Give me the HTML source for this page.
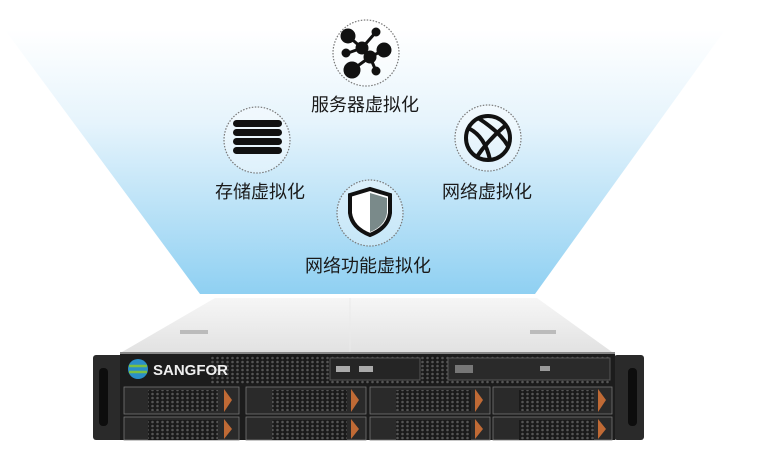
<!DOCTYPE html>
<html><head><meta charset="utf-8"><style>
html,body{margin:0;padding:0;background:#fff;width:759px;height:464px;overflow:hidden}
text{font-family:"Liberation Sans","Noto Sans CJK SC",sans-serif;fill:#1a1a1a}
</style></head><body>
<svg width="759" height="464" viewBox="0 0 759 464" xmlns="http://www.w3.org/2000/svg">
<defs>
<linearGradient id="bl" x1="0" y1="0" x2="0" y2="1">
<stop offset="0" stop-color="#ffffff"/>
<stop offset="0.35" stop-color="#e6f4fc"/>
<stop offset="1" stop-color="#8fd0f2"/>
</linearGradient>
<linearGradient id="top" x1="0" y1="0" x2="0" y2="1">
<stop offset="0" stop-color="#f6f6f6"/>
<stop offset="1" stop-color="#e2e2e2"/>
</linearGradient>
<pattern id="hex" width="5" height="4" patternUnits="userSpaceOnUse">
<rect width="5" height="4" fill="#1a1a1a"/><circle cx="2.5" cy="2" r="1.3" fill="#555"/>
</pattern>
</defs>
<polygon points="5,30 725,30 535,294 200,294" fill="url(#bl)"/>
<!-- server top -->
<polygon points="215,298 537,298 612,352 122,352" fill="url(#top)"/>
<line x1="350" y1="298" x2="350" y2="352" stroke="#eaeaea"/>
<rect x="180" y="330" width="28" height="4" fill="#bbb"/>
<rect x="530" y="330" width="26" height="4" fill="#bbb"/>
<!-- ears -->
<rect x="93" y="355" width="30" height="85" fill="#2a2a2a" rx="3"/>
<rect x="614" y="355" width="30" height="85" fill="#2a2a2a" rx="3"/>
<rect x="99" y="368" width="9" height="58" rx="4" fill="#0d0d0d"/>
<rect x="628" y="368" width="9" height="58" rx="4" fill="#0d0d0d"/>
<!-- front -->
<rect x="120" y="352" width="495" height="88" fill="#1c1c1c"/>
<rect x="120" y="352" width="495" height="2" fill="#888"/>
<rect x="210" y="356" width="400" height="28" fill="url(#hex)"/>
<circle cx="138" cy="369" r="10" fill="#2a8fc8"/>
<path d="M129,366 h18 M129,372 h18" stroke="#7bc043" stroke-width="2.5"/>
<text x="153" y="375" font-size="15" font-weight="bold" style="fill:#eee">SANGFOR</text>
<rect x="330" y="358" width="90" height="22" fill="#252525" stroke="#555"/>
<rect x="336" y="366" width="14" height="6" fill="#aaa"/>
<rect x="359" y="366" width="14" height="6" fill="#aaa"/>
<rect x="448" y="358" width="162" height="22" fill="#2a2a2a" stroke="#555"/>
<rect x="455" y="365" width="18" height="8" fill="#777"/>
<rect x="540" y="366" width="10" height="5" fill="#999"/>
<g fill="#2a2a2a" stroke="#777" stroke-width="0.8">
<rect x="124" y="387" width="115" height="27"/><rect x="246" y="387" width="120" height="27"/><rect x="370" y="387" width="120" height="27"/><rect x="493" y="387" width="119" height="27"/>
<rect x="124" y="417" width="115" height="23"/><rect x="246" y="417" width="120" height="23"/><rect x="370" y="417" width="120" height="23"/><rect x="493" y="417" width="119" height="23"/>
</g>
<g fill="url(#hex)">
<rect x="148" y="390" width="70" height="21"/><rect x="272" y="390" width="75" height="21"/><rect x="396" y="390" width="75" height="21"/><rect x="519" y="390" width="75" height="21"/>
<rect x="148" y="420" width="70" height="20"/><rect x="272" y="420" width="75" height="20"/><rect x="396" y="420" width="75" height="20"/><rect x="519" y="420" width="75" height="20"/>
</g>
<g fill="#c06a35">
<polygon points="224,389 232,400 224,412"/><polygon points="351,389 359,400 351,412"/><polygon points="475,389 483,400 475,412"/><polygon points="598,389 606,400 598,412"/>
<polygon points="224,419 232,429 224,439"/><polygon points="351,419 359,429 351,439"/><polygon points="475,419 483,429 475,439"/><polygon points="598,419 606,429 598,439"/>
</g>
<!-- icons -->
<g fill="#fff" fill-opacity="0.35" stroke="#777" stroke-width="1.2" stroke-dasharray="1.5,1.5">
<circle cx="366" cy="53" r="33"/><circle cx="257" cy="140" r="33"/><circle cx="488" cy="138" r="33"/><circle cx="370" cy="213" r="33"/>
</g>
<g stroke="#111" stroke-width="3" fill="#111">
<line x1="348" y1="36" x2="362" y2="48"/><line x1="362" y1="48" x2="376" y2="32"/><line x1="362" y1="48" x2="370" y2="57"/><line x1="370" y1="57" x2="384" y2="50"/><line x1="370" y1="57" x2="352" y2="70"/><line x1="370" y1="57" x2="376" y2="71"/><line x1="348" y1="53" x2="362" y2="48"/>
<circle cx="348" cy="36" r="6"/><circle cx="362" cy="48" r="5"/><circle cx="376" cy="32" r="3"/><circle cx="370" cy="57" r="5"/><circle cx="384" cy="50" r="6"/><circle cx="352" cy="70" r="7"/><circle cx="376" cy="71" r="3"/><circle cx="346" cy="53" r="3"/>
</g>
<g fill="#111">
<rect x="233" y="120" width="49" height="7" rx="3.5"/><rect x="233" y="129" width="49" height="7" rx="3.5"/><rect x="233" y="138" width="49" height="7" rx="3.5"/><rect x="233" y="147" width="49" height="7" rx="3.5"/>
</g>
<g fill="none" stroke="#111" stroke-width="4">
<circle cx="488" cy="138" r="22"/>
<path d="M468,128 Q485,136 490,160"/><path d="M478,118 Q500,132 508,146"/><path d="M506,125 Q488,140 476,158"/>
</g>
<path d="M350,195 L370,189 L390,195 L390,213 Q388,228 370,235 Q352,228 350,213 Z" fill="#fff" stroke="#111" stroke-width="4"/>
<path d="M370,193 L387,198 L387,213 Q385,226 370,232 Z" fill="#7a8a8a"/>
<g font-size="18" text-anchor="middle">
<text x="365" y="111">服务器虚拟化</text>
<text x="260" y="198">存储虚拟化</text>
<text x="487" y="198">网络虚拟化</text>
<text x="368" y="272">网络功能虚拟化</text>
</g>
</svg>
</body></html>
